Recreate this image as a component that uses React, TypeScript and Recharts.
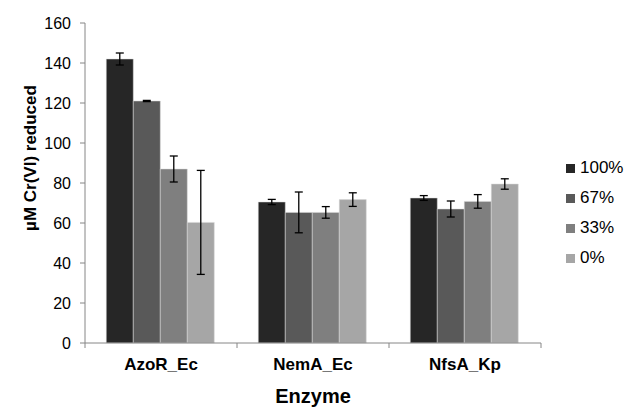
import React from 'react';
import { BarChart, Bar, XAxis, YAxis, ErrorBar, Label } from 'recharts';

const enzymes = ['AzoR_Ec', 'NemA_Ec', 'NfsA_Kp'];
const seriesNames = ['100%', '67%', '33%', '0%'];
const seriesColors = ['#262626', '#595959', '#7f7f7f', '#a6a6a6'];

// mean values per series, one entry per enzyme
const mean100 = [142, 70.5, 72.5];
const mean67 = [121, 65.3, 67];
const mean33 = [87, 65.3, 70.8];
const mean0 = [60.3, 71.7, 79.5];

// error (+/-) per series
const err100 = [3, 1.3, 1.2];
const err67 = [0.3, 10.2, 4];
const err33 = [6.5, 2.9, 3.4];
const err0 = [26, 3.4, 2.6];

const yTicks = [0, 20, 40, 60, 80, 100, 120, 140, 160];

const means = [mean100, mean67, mean33, mean0];
const errs = [err100, err67, err33, err0];

const data = enzymes.map((name, i) => {
  const row: Record<string, string | number> = { name };
  seriesNames.forEach((s, j) => {
    row[s] = means[j][i];
    row[s + '_err'] = errs[j][i];
  });
  return row;
});

const FONT = '"Liberation Sans", Arial, sans-serif';
const BAND = 152;

const CategoryTick = (props: any) => {
  const { x, y, payload, index } = props;
  return (
    <g>
      <line x1={x - BAND / 2} y1={y - 8} x2={x - BAND / 2} y2={y - 3} stroke="#868686" />
      {index === enzymes.length - 1 && (
        <line x1={x + BAND / 2} y1={y - 8} x2={x + BAND / 2} y2={y - 3} stroke="#868686" />
      )}
      <text x={x} y={y + 19} textAnchor="middle" fontFamily={FONT} fontSize={17} fontWeight="bold" fill="#000">
        {payload.value}
      </text>
    </g>
  );
};

const LegendBox = () => (
  <div style={{ position: 'absolute', left: 566, top: 153, fontFamily: FONT, fontSize: 17, color: '#000' }}>
    {seriesNames.map((s, i) => (
      <div key={s} style={{ display: 'flex', alignItems: 'center', height: 30 }}>
        <span style={{ width: 9, height: 9, background: seriesColors[i], marginRight: 5, display: 'inline-block' }} />
        <span>{s}</span>
      </div>
    ))}
  </div>
);

const YTitle = (props: any) => {
  const { viewBox } = props;
  const cx = 30;
  const cy = viewBox.y + viewBox.height / 2 - 25;
  return (
    <text x={cx} y={cy} transform={`rotate(-90 ${cx} ${cy})`} textAnchor="middle" dominantBaseline="central"
      fontFamily={FONT} fontSize={17} fontWeight="bold" fill="#000">
      µM Cr(VI) reduced
    </text>
  );
};

const XTitle = (props: any) => {
  const { viewBox } = props;
  const cx = viewBox.x + viewBox.width / 2;
  return (
    <text x={cx} y={403} textAnchor="middle" fontFamily={FONT} fontSize={20} fontWeight="bold" fill="#000">
      Enzyme
    </text>
  );
};

export default function App() {
  return (
    <div style={{ position: 'absolute', left: 0, top: 0, width: 629, height: 408, background: '#fff' }}>
      <BarChart
        width={629}
        height={408}
        data={data}
        margin={{ top: 23, right: 88, bottom: 35, left: 0 }}
        barCategoryGap="14%"
        barGap={0}
      >
        <XAxis
          dataKey="name"
          height={30}
          axisLine={{ stroke: '#868686' }}
          tickLine={false}
          tick={<CategoryTick />}
          interval={0}
        >
          <Label content={<XTitle />} />
        </XAxis>
        <YAxis
          width={85}
          domain={[0, 160]}
          ticks={yTicks}
          interval={0}
          axisLine={{ stroke: '#868686' }}
          tickLine={{ stroke: '#868686' }}
          tickSize={5}
          tick={{ fontFamily: FONT, fontSize: 16, fill: '#000' }}
          tickMargin={9}
        >
          <Label content={<YTitle />} />
        </YAxis>
        {seriesNames.map((s, i) => (
          <Bar key={s} dataKey={s} fill={seriesColors[i]} stroke="#d9d9d9" strokeWidth={0.5} isAnimationActive={false}>
            <ErrorBar dataKey={s + '_err'} width={4} stroke="#000" strokeWidth={1.3} direction="y" />
          </Bar>
        ))}
      </BarChart>
      <LegendBox />
    </div>
  );
}
